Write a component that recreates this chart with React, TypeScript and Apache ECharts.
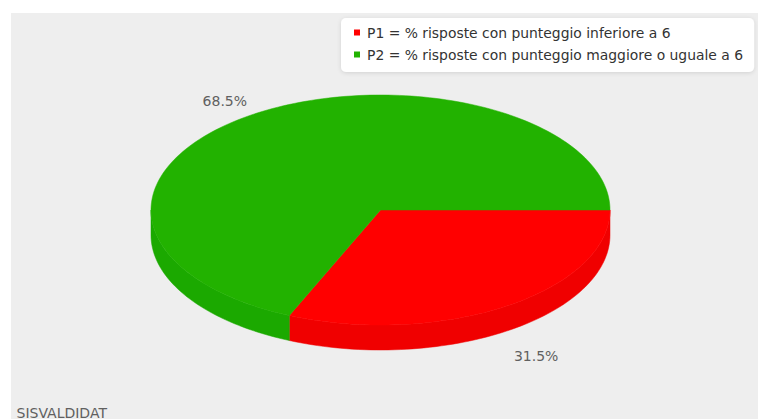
import React, { useEffect, useRef } from 'react';
import * as echarts from 'echarts';

const categories = [
  'P1 = % risposte con punteggio inferiore a 6',
  'P2 = % risposte con punteggio maggiore o uguale a 6',
];
const values = [31.5, 68.5];
const labelTexts = ['31.5%', '68.5%'];
const topColors = ['#ff0000', '#22b200'];
const sideColors = ['#f00000', '#1ba900'];
const footerText = 'SISVALDIDAT';

const total = values.reduce((a, b) => a + b, 0);
const starts = values.map((_, i) => values.slice(0, i).reduce((a, b) => a + b, 0));

const CX = 380.5;
const CY = 210;
const RX = 229.5;
const RY = 115;
const DEPTH = 25;
const SEG = 240;
const FONT = 'DejaVu Sans';

function pt(a: number, dy: number): number[] {
  return [CX + RX * Math.cos(a), CY + RY * Math.sin(a) + dy];
}
function arcPts(a1: number, a2: number, dy: number): number[][] {
  const n = Math.max(2, Math.ceil((Math.abs(a2 - a1) / (2 * Math.PI)) * SEG));
  const out: number[][] = [];
  for (let i = 0; i <= n; i++) out.push(pt(a1 + ((a2 - a1) * i) / n, dy));
  return out;
}

function makeRenderItem(idx: number) {
  return (params: any, api: any) => {
    const v = api.value(0);
    const s = api.value(1);
    const a1 = (s / total) * Math.PI * 2;
    const a2 = ((s + v) / total) * Math.PI * 2;
    const children: any[] = [];
    // side walls (front half only)
    const ranges = [
      [0, Math.PI],
      [2 * Math.PI, 3 * Math.PI],
    ];
    ranges.forEach(([r1, r2]) => {
      const b1 = Math.max(a1, r1);
      const b2 = Math.min(a2, r2);
      if (b2 > b1) {
        const top = arcPts(b1, b2, 0);
        const bot = arcPts(b2, b1, DEPTH);
        children.push({
          type: 'polygon',
          shape: { points: top.concat(bot) },
          style: { fill: sideColors[idx], stroke: sideColors[idx], lineWidth: 0.5 },
        });
      }
    });
    // top face
    children.push({
      type: 'polygon',
      shape: { points: [[CX, CY]].concat(arcPts(a1, a2, 0)) },
      style: { fill: topColors[idx], stroke: topColors[idx], lineWidth: 0.5 },
    });
    // label
    const mid = (a1 + a2) / 2;
    const c = Math.cos(mid);
    const sn = Math.sin(mid);
    const lx = CX + 243 * c;
    const ly = CY + 130 * sn + (sn > 0 ? 37 : 0);
    children.push({
      type: 'text',
      x: lx,
      y: ly,
      style: {
        text: labelTexts[idx],
        fill: '#606060',
        fontFamily: FONT,
        fontSize: 14,
        align: c >= 0 ? 'left' : 'right',
        verticalAlign: 'middle',
      },
    });
    return { type: 'group', children };
  };
}

export default function App() {
  const ref = useRef<HTMLDivElement>(null);
  useEffect(() => {
    if (!ref.current) return;
    const chart = echarts.init(ref.current, null, { renderer: 'svg' });
    chart.setOption({
      animation: false,
      legend: {
        orient: 'vertical',
        left: 341,
        top: 18,
        data: categories,
        icon: 'rect',
        itemWidth: 6,
        itemHeight: 6,
        itemGap: 5,
        padding: [6, 11, 9, 13],
        backgroundColor: '#ffffff',
        borderRadius: 5,
        shadowBlur: 4,
        shadowColor: 'rgba(0,0,0,0.12)',
        shadowOffsetY: 1,
        selectedMode: false,
        textStyle: {
          fontFamily: FONT,
          fontSize: 13.9,
          color: '#333333',
          lineHeight: 17,
          padding: [0, 0, 0, 2],
        },
      },
      graphic: [
        {
          type: 'rect',
          z: -100,
          shape: { x: 11, y: 13, width: 747, height: 406 },
          style: { fill: '#eeeeee' },
        },
        {
          type: 'text',
          x: 16.5,
          y: 412.5,
          style: {
            text: footerText,
            fill: '#606060',
            fontFamily: FONT,
            fontSize: 14,
            verticalAlign: 'middle',
          },
        },
      ],
      series: categories.map((name, i) => ({
        type: 'custom',
        name,
        coordinateSystem: 'none',
        itemStyle: { color: topColors[i] },
        data: [[values[i], starts[i]]],
        renderItem: makeRenderItem(i),
      })),
    });
    return () => chart.dispose();
  }, []);
  return (
    <div
      ref={ref}
      style={{ position: 'absolute', left: 0, top: 0, width: 758, height: 419 }}
    />
  );
}
